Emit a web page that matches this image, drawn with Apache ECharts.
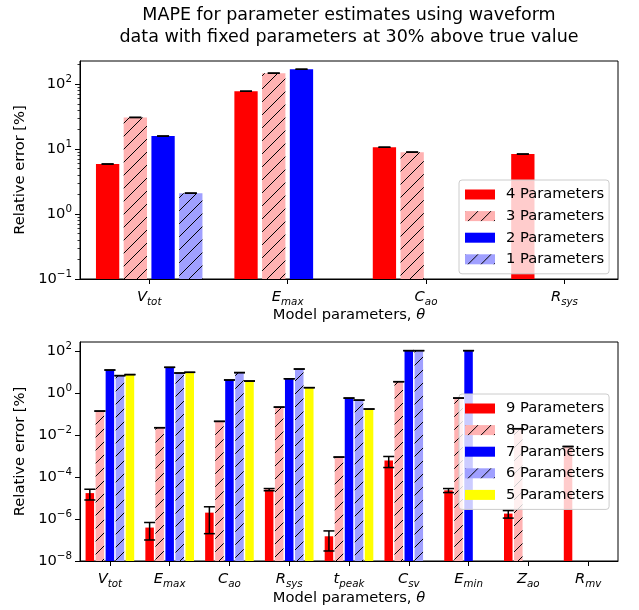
<!DOCTYPE html>
<html><head><meta charset="utf-8">
<script src="https://cdn.jsdelivr.net/npm/echarts@6/dist/echarts.min.js"></script>
<style>html,body{margin:0;padding:0;background:#fff}#c{width:639px;height:610px}</style>
</head><body><div id="c"></div>
<script>
const FONT = 'DejaVu Sans';

// ---------- data: top panel ----------
const topCategories = [['V','tot'],['E','max'],['C','ao'],['R','sys']];
const topSeriesNames = ['4 Parameters','3 Parameters','2 Parameters','1 Parameters'];
const top4 = [5.9, 78, 10.7, 8.4];
const top3 = [30.8, 148, 9.0, null];
const top2 = [15.9, 170, null, null];
const top1 = [2.1, null, null, null];
const topErr4 = [0, 0, 0, 0];
const topErr3 = [0, 0, 0, null];
const topErr2 = [0, 0, null, null];
const topErr1 = [0, null, null, null];
const topYTicks = [0.1, 1, 10, 100];
const topYMinor = [0.2,0.3,0.4,0.5,0.6,0.7,0.8,0.9,2,3,4,5,6,7,8,9,20,30,40,50,60,70,80,90,200];

// ---------- data: bottom panel ----------
const botCategories = [['V','tot'],['E','max'],['C','ao'],['R','sys'],['t','peak'],['C','sv'],['E','min'],['Z','ao'],['R','mv']];
const botSeriesNames = ['9 Parameters','8 Parameters','7 Parameters','6 Parameters','5 Parameters'];
const bot9 = [1.7e-5, 3.9e-7, 2.0e-6, 2.5e-5, 1.5e-7, 6.1e-4, 2.3e-5, 1.8e-6, 2.8e-3];
const bot8 = [0.136, 0.022, 0.044, 0.21, 8.8e-4, 3.4, 0.565, 0.0197, null];
const bot7 = [12.2, 16.4, 4.1, 4.7, 0.565, 102, 102, null, null];
const bot6 = [6.6, 8.8, 9.2, 13.6, 0.45, 102, null, null, null];
const bot5 = [7.4, 9.5, 3.65, 1.77, 0.17, null, null, null, null];
const botErr9 = [0.9e-5, 2.9e-7, 1.8e-6, 0.3e-5, 1.2e-7, 3.3e-4, 0.5e-5, 0.7e-6, 0];
const botErr8 = [0, 0, 0, 0, 0, 0, 0, 0, null];
const botErr7 = [0, 0, 0, 0, 0, 0, 0, null, null];
const botErr6 = [0, 0, 0, 0, 0, 0, null, null, null];
const botErr5 = [0, 0, 0, 0, 0, null, null, null, null];
const botYTicks = [1e-8, 1e-6, 1e-4, 1e-2, 1, 100];

// ---------- styling helpers ----------
const FS = 14.7, FSS = 10.3;
function hatch(bg) {
  const S = 13, c = document.createElement('canvas');
  c.width = S; c.height = S;
  const g = c.getContext('2d');
  g.fillStyle = bg; g.fillRect(0, 0, S, S);
  g.strokeStyle = '#000'; g.lineWidth = 1;
  g.beginPath();
  for (let k = -1; k <= 1; k++) { g.moveTo(k * S, S); g.lineTo(k * S + S, 0); }
  g.stroke();
  return { image: c, repeat: 'repeat' };
}
const topColors = ['#ff0000', hatch('#ffb2b2'), '#0000ff', hatch('#a0a0ff')];
const botColors = ['#ff0000', hatch('#ffb2b2'), '#0000ff', hatch('#a0a0ff'), '#ffff00'];

const richX = {
  i: { fontFamily: FONT, fontStyle: 'italic', fontSize: FS, lineHeight: 20, color: '#000', verticalAlign: 'middle' },
  s: { fontFamily: FONT, fontStyle: 'italic', fontSize: FSS, lineHeight: 8, color: '#000', verticalAlign: 'bottom' }
};
const richY = {
  n: { fontFamily: FONT, fontSize: FS, lineHeight: 20, color: '#000', verticalAlign: 'middle' },
  sup: { fontFamily: FONT, fontSize: FSS, lineHeight: 10, color: '#000', verticalAlign: 'top' }
};
function powLabel(v) {
  const e = Math.round(Math.log10(v));
  return '{n|10}{sup|' + (e < 0 ? '\u2212' + (-e) : e) + '}';
}
function catFormatter(cats) {
  return function (v) {
    const c = cats[Math.round(v)];
    return c ? '{i|' + c[0] + '}{s|' + c[1] + '}' : '';
  };
}
function barSeries(names, arrays, colors, xi, yi, bw, gap) {
  return names.map((nm, k) => ({
    type: 'bar', name: nm, xAxisIndex: xi, yAxisIndex: yi,
    barWidth: bw, barGap: gap,
    itemStyle: { color: colors[k] },
    data: arrays[k].map((v, i) => v == null ? null : [i, v]).filter(d => d)
  }));
}
function errSeries(name, xi, yi, vals, errs, pitch, capW) {
  const n = vals.length;
  const items = [];
  vals.forEach((arr, k) => arr.forEach((v, i) => {
    if (v == null) return;
    const e = errs[k][i] || 0;
    const lo = (v - e) > 0 ? v - e : v * 0.05;
    items.push([i, lo, v + e, k]);
  }));
  return {
    type: 'custom', name, xAxisIndex: xi, yAxisIndex: yi, z: 10, silent: true,
    data: items, encode: { x: 0, y: [1, 2] },
    renderItem(params, api) {
      const x = api.value(0), lo = api.value(1), hi = api.value(2), k = api.value(3);
      const off = (k - (n - 1) / 2) * pitch;
      const p1 = api.coord([x, hi]), p0 = api.coord([x, lo]);
      const cx = p1[0] + off;
      const st = { stroke: '#000', lineWidth: 1.5 };
      return { type: 'group', children: [
        { type: 'line', shape: { x1: cx, y1: p0[1], x2: cx, y2: p1[1] }, style: st },
        { type: 'line', shape: { x1: cx - capW / 2, y1: p1[1], x2: cx + capW / 2, y2: p1[1] }, style: st },
        { type: 'line', shape: { x1: cx - capW / 2, y1: p0[1], x2: cx + capW / 2, y2: p0[1] }, style: st }
      ] };
    }
  };
}
function xAxisDef(gi, max, cats, nameGap) {
  const vals = cats.map((c, i) => i);
  return {
    type: 'value', gridIndex: gi, min: -0.5, max: max, position: 'bottom',
    name: 'Model parameters, {it|\u03b8}', nameLocation: 'middle', nameGap: nameGap,
    nameTextStyle: { fontFamily: FONT, fontSize: FS, color: '#000',
      rich: { it: { fontFamily: FONT, fontStyle: 'italic', fontSize: FS, color: '#000' } } },
    axisLine: { show: true, onZero: false, lineStyle: { color: '#000', width: 1 } },
    axisTick: { show: true, length: 5, customValues: vals, lineStyle: { color: '#000' } },
    axisLabel: { customValues: vals, formatter: catFormatter(cats), margin: 8, rich: richX },
    splitLine: { show: false }
  };
}
function yAxisDef(gi, min, max, ticks) {
  return {
    type: 'log', logBase: 10, gridIndex: gi, min: min, max: max, startValue: min, position: 'left',
    name: 'Relative error [%]', nameLocation: 'middle', nameGap: 50,
    nameTextStyle: { fontFamily: FONT, fontSize: FS, color: '#000' },
    axisLine: { show: true, onZero: false, lineStyle: { color: '#000', width: 1 } },
    axisTick: { show: true, length: 5, customValues: ticks, lineStyle: { color: '#000' } },
    axisLabel: { customValues: ticks, formatter: powLabel, margin: 8, rich: richY },
    splitLine: { show: false }, minorTick: { show: false }
  };
}
function legendDef(names, top) {
  return {
    data: names, orient: 'vertical', left: 459, top: top,
    itemWidth: 30, itemHeight: 10, itemGap: 6.6,
    padding: [7, 5, 7, 6],
    backgroundColor: 'rgba(255,255,255,0.8)', borderColor: '#cccccc', borderWidth: 1, borderRadius: 3,
    icon: 'rect',
    textStyle: { fontFamily: FONT, fontSize: FS, color: '#000', padding: [0, 0, 0, 6] }
  };
}

const topVals = [top4, top3, top2, top1];
const topErrs = [topErr4, topErr3, topErr2, topErr1];
const botVals = [bot9, bot8, bot7, bot6, bot5];
const botErrs = [botErr9, botErr8, botErr7, botErr6, botErr5];

const TBW = 23.3, TGAP = 0.19, BBW = 8.5, BGAP = 0.18;

const option = {
  animation: false,
  backgroundColor: '#fff',
  graphic: [{
    type: 'text', x: 349, y: 4, z: 100,
    style: { text: 'MAPE for parameter estimates using waveform\ndata with fixed parameters at 30% above true value',
      x: 0, y: 0, textAlign: 'center', fill: '#000', font: '17.5px "DejaVu Sans"', lineHeight: 22 }
  }],
  grid: [
    { left: 80, top: 61, width: 538, height: 218, show: true, borderColor: '#000', borderWidth: 1, backgroundColor: 'transparent' },
    { left: 80, top: 342, width: 538, height: 219, show: true, borderColor: '#000', borderWidth: 1, backgroundColor: 'transparent' }
  ],
  xAxis: [xAxisDef(0, 3.387, topCategories, 28), xAxisDef(1, 8.5, botCategories, 30)],
  yAxis: [
    yAxisDef(0, 0.1, 228, topYTicks),
    yAxisDef(1, 1e-8, 263, botYTicks),
    { type: 'log', logBase: 10, gridIndex: 0, min: 0.1, max: 228, position: 'left', offset: 0,
      axisLine: { show: false, onZero: false }, axisLabel: { show: false }, splitLine: { show: false },
      axisTick: { show: true, length: 2.5, customValues: topYMinor, lineStyle: { color: '#000', width: 0.8 } } }
  ],
  legend: [legendDef(topSeriesNames, 180), legendDef(botSeriesNames, 394)],
  series: [
    ...barSeries(topSeriesNames, topVals, topColors, 0, 0, TBW, (TGAP * 100) + '%'),
    ...barSeries(botSeriesNames, botVals, botColors, 1, 1, BBW, (BGAP * 100) + '%'),
    errSeries('errTop', 0, 0, topVals, topErrs, TBW * (1 + TGAP), 12),
    errSeries('errBot', 1, 1, botVals, botErrs, BBW * (1 + BGAP), 11)
  ]
};
const chart = echarts.init(document.getElementById('c'), null, { renderer: 'canvas' });
chart.setOption(option);
</script>
</body></html>
